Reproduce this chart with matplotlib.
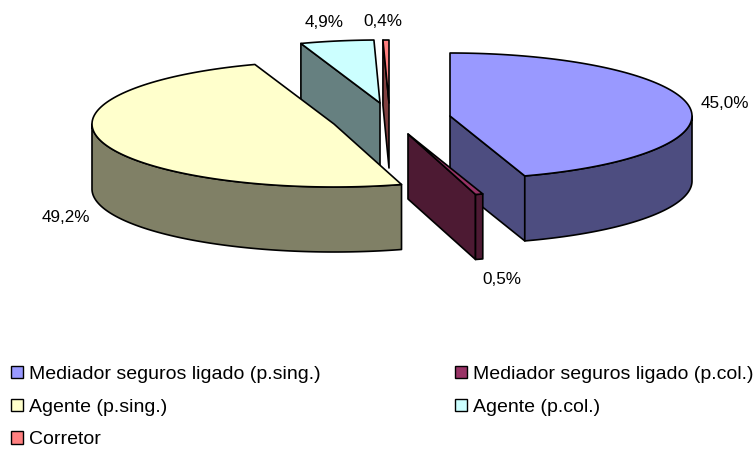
import numpy as np
import matplotlib
matplotlib.use('Agg')
import matplotlib.pyplot as plt
from matplotlib.patches import Patch

categories = ['Mediador seguros ligado (p.sing.)', 'Mediador seguros ligado (p.col.)',
              'Agente (p.sing.)', 'Agente (p.col.)', 'Corretor']
values = [45.0, 0.5, 49.2, 4.9, 0.4]
labels = ['45,0%', '0,5%', '49,2%', '4,9%', '0,4%']

top_colors = ['#9999FF', '#993366', '#FFFFCC', '#CCFFFF', '#FF8080']
side_colors = ['#4D4D80', '#4D1A33', '#808066', '#668080', '#804040']

RX, RY, DEPTH = 242, 63, 65
CENTER = (392, 119)
# how far each slice is pulled out of the pie, pixels
explode = [(58, -3), (16, 15), (-58, 5), (-12, -16), (-3, -16)]
label_pos = [(725, 103.5), (502, 280), (66, 217.5), (324, 22.5), (383, 21.5)]
draw_order = [3, 4, 0, 2, 1]


def rim(cx, cy, a0, a1, dy=0):
    t = np.radians(np.linspace(a0, a1, 120))
    return cx + RX * np.sin(t), cy - RY * np.cos(t) + dy


def draw_slice(ax, i, a0, a1):
    cx = CENTER[0] + explode[i][0]
    cy = CENTER[1] + explode[i][1]
    kw = dict(edgecolor='black', linewidth=1.2, joinstyle='round')

    # radial faces, only the ones turned to the viewer
    for ang, show in ((a0, np.sin(np.radians(a0)) < -1e-9), (a1, np.sin(np.radians(a1)) > 1e-9)):
        if show:
            x, y = rim(cx, cy, ang, ang)
            ax.fill([cx, x[0], x[0], cx], [cy, y[0], y[0] + DEPTH, cy + DEPTH],
                    facecolor=side_colors[i], **kw)

    # outer wall, front half of the rim
    lo, hi = max(a0, 90), min(a1, 270)
    if lo < hi:
        xt, yt = rim(cx, cy, lo, hi)
        xb, yb = rim(cx, cy, lo, hi, DEPTH)
        ax.fill(np.r_[xt, xb[::-1]], np.r_[yt, yb[::-1]], facecolor=side_colors[i], **kw)

    xt, yt = rim(cx, cy, a0, a1)
    ax.fill(np.r_[cx, xt], np.r_[cy, yt], facecolor=top_colors[i], **kw)


fig = plt.figure(figsize=(7.56, 4.5), dpi=100)
ax = fig.add_axes([0, 0, 1, 1])
ax.set_xlim(0, 756)
ax.set_ylim(450, 0)
ax.axis('off')
plt.rcParams['font.family'] = ['Liberation Sans', 'DejaVu Sans']

edges = np.r_[0, np.cumsum(values)] / np.sum(values) * 360
for i in draw_order:
    draw_slice(ax, i, edges[i], edges[i + 1])

for txt, (x, y) in zip(labels, label_pos):
    ax.text(x, y, txt, ha='center', va='center', fontsize=12.3, color='black')

# legend fills column by column, the reference reads row by row
order = [0, 2, 4, 1, 3]
handles = [Patch(facecolor=top_colors[i], edgecolor='black', linewidth=1.0, label=categories[i]) for i in order]
ax.legend(handles=handles, ncol=2, frameon=False, loc='upper left', bbox_to_anchor=(0.0145, 0.187),
          fontsize=14, labelspacing=0.8, handlelength=0.62, handleheight=0.62,
          handletextpad=0.31, columnspacing=6.9, borderpad=0, borderaxespad=0)

fig.savefig('out.png', dpi=100)
